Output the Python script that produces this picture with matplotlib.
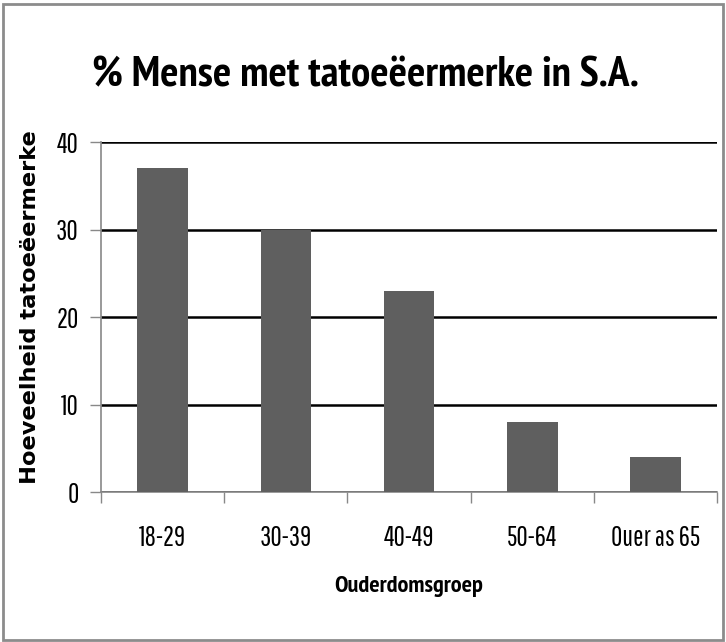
import matplotlib
matplotlib.use("Agg")
import matplotlib.pyplot as plt
from matplotlib.patches import Rectangle
from matplotlib import font_manager

# data
groepe = ["18-29", "30-39", "40-49", "50-64", "Ouer as 65"]
waardes = [37, 30, 23, 8, 4]
y_ticks = [0, 10, 20, 30, 40]

fonts = font_manager.fontManager.ttflist

def pick(cands, bold=False):
    for c in cands:
        for f in fonts:
            if f.name == c and (not bold or f.weight in (700, "bold")):
                return c
    return "Liberation Sans"

f_title = pick(["PT Sans Narrow", "Barlow Condensed", "Roboto Condensed", "Archivo Narrow"], bold=True)
f_tick = pick(["Pathway Gothic One", "Oswald", "Roboto Condensed"])
f_ylab = "DejaVu Sans"

fig = plt.figure(figsize=(7.26, 6.42), dpi=100)
ax = fig.add_axes([0.139, 0.2336, 0.849, 0.5452])
renderer = fig.canvas.get_renderer()

def fit(t, target, horiz=True):
    # rescale a text so it spans `target` pixels
    bb = t.get_window_extent(renderer)
    cur = bb.width if horiz else bb.height
    t.set_fontsize(t.get_fontsize() * target / cur)

x = list(range(len(groepe)))
ax.bar(x, waardes, width=0.41, color="#5f5f5f", zorder=3)

ax.set_xlim(-0.5, len(groepe) - 0.5)
ax.set_ylim(0, 40)
ax.set_yticks(y_ticks)
ax.yaxis.grid(True, color="black", linewidth=1.8, zorder=1)
ax.set_axisbelow(True)

ax.set_xticks([i - 0.5 for i in range(len(groepe) + 1)])
ax.set_xticklabels([])
ax.set_xticks(x, minor=True)

# tick label size fitted to the reference's narrow labels
probe = fig.text(0, 0, "Ouer as 65", fontfamily=f_tick, fontsize=18)
fit(probe, 89)
tick_fs = probe.get_fontsize()
probe.remove()

ax.set_xticklabels(groepe, minor=True, fontfamily=f_tick, fontsize=tick_fs)
ax.set_yticklabels([str(v) for v in y_ticks], fontfamily=f_tick, fontsize=tick_fs)
ax.tick_params(axis="x", which="minor", length=0, pad=24)
ax.tick_params(axis="x", which="major", length=8, color="#888888", width=1)
ax.tick_params(axis="y", length=8, color="#888888", width=1, pad=8)

for s in ["top", "right"]:
    ax.spines[s].set_visible(False)
for s in ["left", "bottom"]:
    ax.spines[s].set_color("#888888")
    ax.spines[s].set_linewidth(1.2)

xl = fig.text(409 / 726, 1 - 576 / 642, "Ouderdomsgroep", ha="center", va="top",
              fontfamily=f_title, fontweight="bold", fontsize=16)
fit(xl, 148)

yl = fig.text(30 / 726, 1 - 307 / 642, "Hoeveelheid tatoeëermerke", ha="center",
              va="center", rotation=90, fontfamily=f_ylab, fontweight="bold", fontsize=15)
fit(yl, 355, horiz=False)

tt = fig.text(366 / 726, 1 - 86 / 642, "% Mense met tatoeëermerke in S.A.", ha="center",
              va="baseline", fontfamily=f_title, fontweight="bold", fontsize=36)
fit(tt, 547)

# grey frame round the chart
fig.patches.append(Rectangle((0.004, 0.003), 0.992, 0.991, transform=fig.transFigure,
                             fill=False, edgecolor="#8c8c8c", linewidth=2))

fig.savefig("out.png", dpi=100)
